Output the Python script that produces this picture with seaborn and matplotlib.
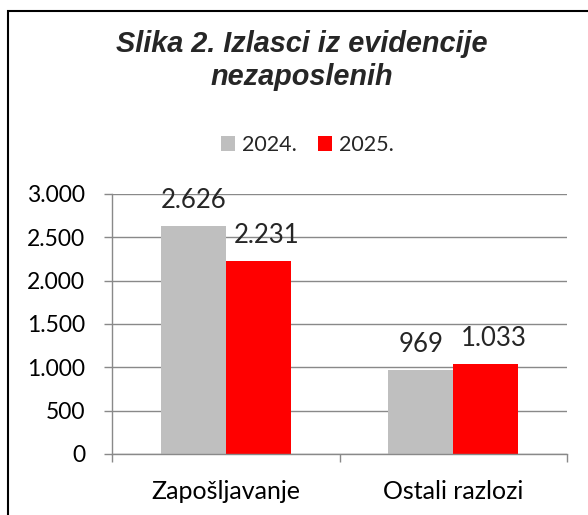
import matplotlib
matplotlib.use("Agg")
import matplotlib.pyplot as plt
import matplotlib.patches as patches
import pandas as pd
import seaborn as sns

categories = ["Zapošljavanje", "Ostali razlozi"]
years = ["2024.", "2025."]
values_2024 = [2626, 969]
values_2025 = [2231, 1033]
yticks = [0, 500, 1000, 1500, 2000, 2500, 3000]
colors = ["#BFBFBF", "#FF0000"]
title_lines = ["Slika 2. Izlasci iz evidencije", "nezaposlenih"]

df = pd.DataFrame({
    "kategorija": categories * 2,
    "godina": [years[0]] * 2 + [years[1]] * 2,
    "broj": values_2024 + values_2025,
})


def fmt(v):
    return f"{v:,.0f}".replace(",", ".")


sns.set_style("white")
plt.rcParams["font.family"] = ["Lato", "DejaVu Sans"]

fig = plt.figure(figsize=(5.88, 5.15), dpi=100)
ax = fig.add_axes([112 / 588, 1 - 454 / 515, 455 / 588, 260 / 515])

sns.barplot(data=df, x="kategorija", y="broj", hue="godina", palette=colors,
            width=0.571, linewidth=0, saturation=1, ax=ax)

ax.set_xlim(-0.5, 1.5)
ax.set_ylim(0, 3000)
ax.set_xlabel("")
ax.set_ylabel("")
ax.get_legend().remove()

grid_col = "#898989"
ax.set_yticks(yticks)
ax.set_yticklabels([fmt(v) for v in yticks])
ax.yaxis.grid(True, color=grid_col, linewidth=1.0)
ax.set_axisbelow(True)
for side in ["top", "right"]:
    ax.spines[side].set_visible(False)
for side in ["left", "bottom"]:
    ax.spines[side].set_color(grid_col)
    ax.spines[side].set_linewidth(1.0)

ax.tick_params(axis="y", left=True, length=5.8, width=1.0, color=grid_col,
               pad=13.5, labelsize=16.5, labelcolor="black")
ax.set_xticks([-0.5, 0.5, 1.5], minor=True)
ax.tick_params(axis="x", which="minor", bottom=True, length=5.8, width=1.0,
               color=grid_col)
ax.tick_params(axis="x", which="major", bottom=False, length=0, pad=19,
               labelsize=18, labelcolor="black")

# data labels
for i, cont in enumerate(ax.containers):
    dx = 0 if i == 0 else 6
    for bar in cont:
        h = bar.get_height()
        ax.annotate(fmt(h), (bar.get_x() + bar.get_width() / 2, h),
                    xytext=(dx, 13), textcoords="offset points",
                    ha="center", va="baseline", fontsize=18.5)

# legend
handles = [patches.Patch(facecolor=c, edgecolor="none") for c in colors]
fig.legend(handles, years, loc="center", bbox_to_anchor=(0.523, 1 - 145 / 515),
           ncol=2, frameon=False, fontsize=15.5, handlelength=0.65,
           handleheight=0.65, handletextpad=0.3, columnspacing=1.0)

# title, two lines
for line, base in zip(title_lines, [52, 85]):
    fig.text(301.5 / 588, 1 - base / 515, line, ha="center", va="baseline",
             fontsize=20.8, fontweight="bold", fontstyle="italic",
             family=["Liberation Sans", "DejaVu Sans"])

# chart frame (cut off at right and bottom)
fig.patches.append(patches.Rectangle((8 / 588, -0.2), 1.2, 0.2 + 1 - 11 / 515,
                                     transform=fig.transFigure, fill=False,
                                     edgecolor="black", linewidth=1.5))

fig.savefig("out.png", dpi=100)
